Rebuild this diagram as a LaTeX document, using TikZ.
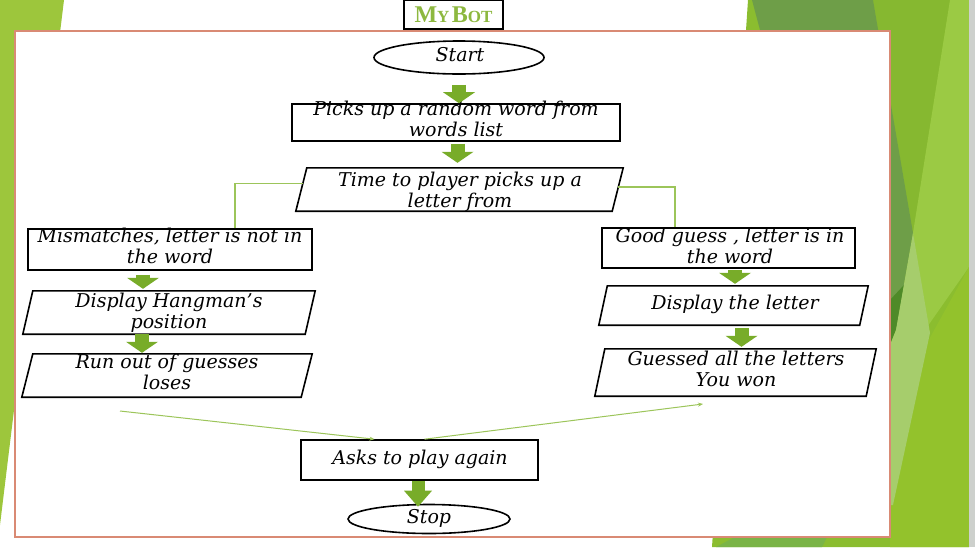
\documentclass[tikz,border=0pt]{standalone}
\usepackage{fontspec}
\setmainfont{DejaVu Serif}
\newfontfamily\titlefont{Liberation Serif}
\usetikzlibrary{shapes.geometric,arrows.meta}
\definecolor{gLeft}{HTML}{9DC63C}
\definecolor{gBase}{HTML}{8BBD2F}
\definecolor{gMid}{HTML}{86B830}
\definecolor{gLight}{HTML}{9BCA44}
\definecolor{gLow}{HTML}{93C22C}
\definecolor{gDark}{HTML}{6E9E48}
\definecolor{gVDark}{HTML}{4E8A28}
\definecolor{gPale}{HTML}{A6CD6C}
\definecolor{gBot}{HTML}{7AB447}
\definecolor{edgeGray}{HTML}{CDD0CC}
\definecolor{frameRed}{HTML}{D98A74}
\definecolor{blockGreen}{HTML}{78AC29}
\definecolor{blockEdge}{HTML}{5E8C1E}
\definecolor{thinGreen}{HTML}{9CC55A}
\definecolor{titleGreen}{HTML}{8DB83F}
\newcommand\drawpara[2]{\draw[paraline] ([xshift=#2]#1.north west) -- (#1.north east) -- ([xshift=-#2]#1.south east) -- (#1.south west) -- cycle;}
\begin{document}
\begin{tikzpicture}[x=1pt,y=-1pt,
  procbox/.style={draw=black,line width=1.6pt,rectangle,inner sep=0pt,fill=white},
  iobox/.style={rectangle,inner sep=0pt},
  paraline/.style={draw=black,line width=1.6pt,fill=white},
  termbox/.style={draw=black,line width=1.6pt,ellipse,inner sep=0pt,fill=white},
  txt/.style={font=\itshape\fontsize{19}{21}\selectfont,align=center,inner sep=0pt,execute at begin node=\strut,execute at end node=\strut},
  blockarr/.style={draw=blockGreen,line width=14pt,-{Triangle[width=32pt,length=11pt,line width=0pt]}},
  thinline/.style={draw=thinGreen,line width=1.1pt},
  thinarr/.style={draw=thinGreen,line width=1pt,-{Stealth[length=5pt,width=4pt]}}
]
\useasboundingbox (0,0) rectangle (975,547);
% background
\fill[gLeft] (0,0) -- (64,0) -- (0,525) -- cycle;
\fill[gBase] (748,0) -- (969,0) -- (969,547) -- (712,547) -- cycle;
\fill[gMid] (873,0) -- (950,0) -- (913,233) -- cycle;
\fill[gLight] (950,0) -- (969,0) -- (969,267) -- (925,330) -- (913,233) -- cycle;
\fill[gLow] (969,267) -- (969,547) -- (890,547) -- (890,410) -- cycle;
\fill[gDark] (752,0) -- (873,0) -- (913,233) -- (896,330) -- (880,335) -- (880,30) -- (760,30) -- cycle;
\fill[gVDark] (890,300) -- (904,285) -- (896,330) -- (890,345) -- cycle;
\fill[gPale] (913,233) -- (930,333) -- (893,505) -- (890,505) -- (890,345) -- (896,330) -- cycle;
\fill[gBot] (735,537) -- (827,537) -- (822,547) -- (716,547) -- cycle;
\fill[edgeGray] (969,0) rectangle (975,547);
% frame
\draw[draw=frameRed,line width=1.8pt,fill=white] (15,31) rectangle (890,537);
% title
\node[draw=black,line width=1.8pt,fill=white,minimum width=99pt,minimum height=29pt,inner sep=0pt,
      text=titleGreen,font=\titlefont\bfseries] (title) at (453.5,14.5)
      {{\fontsize{24}{24}\selectfont M}{\fontsize{17}{17}\selectfont Y} {\fontsize{24}{24}\selectfont B}{\fontsize{17}{17}\selectfont OT}};
% shapes
\node[termbox,minimum width=170pt,minimum height=33pt] (start) at (459,57.5) {};
\node[procbox,minimum width=328pt,minimum height=37pt] (picks) at (456,122.5) {};
\node[iobox,minimum width=327pt,minimum height=43pt] (time) at (459.5,189.5) {};
\drawpara{time}{11pt}
\node[procbox,minimum width=284pt,minimum height=41pt] (mism) at (170,249.5) {};
\node[iobox,minimum width=292pt,minimum height=43pt] (hang) at (169,312.5) {};
\drawpara{hang}{10pt}
\node[iobox,minimum width=290pt,minimum height=43pt] (runout) at (167,375.5) {};
\drawpara{runout}{11pt}
\node[procbox,minimum width=253pt,minimum height=40pt] (good) at (728.5,248) {};
\node[iobox,minimum width=269pt,minimum height=39pt] (disp) at (733.5,305.5) {};
\drawpara{disp}{8.5pt}
\node[iobox,minimum width=281pt,minimum height=47pt] (guessed) at (735.5,372.5) {};
\drawpara{guessed}{10pt}
\node[procbox,minimum width=237pt,minimum height=40pt] (asks) at (419.5,460) {};
\node[termbox,minimum width=162pt,minimum height=29pt] (stop) at (429,519) {};
% texts
\node[txt] (tstart) at (460,57.5) {Start};
\node[txt] (tpicks) at (456,121.5) {Picks up a random word from\\words list};
\node[txt] (ttime) at (460,192.5) {Time to player picks up a\\letter from};
\node[txt] (tmism) at (170,249) {Mismatches, letter is not in\\the word};
\node[txt] (thang) at (169,314) {Display Hangman’s\\position};
\node[txt] (trunout) at (167,374.5) {Run out of guesses\\loses};
\node[txt] (tgood) at (730,248.5) {Good guess , letter is in\\the word};
\node[txt] (tdisp) at (735,305.5) {Display the letter};
\node[txt] (tguessed) at (736,372) {Guessed all the letters\\You won};
\node[txt] (tasks) at (420,460.5) {Asks to play again};
\node[txt] (tstop) at (429,519) {Stop};
% block arrows
\draw[blockarr,shorten <=10pt] ([xshift=0pt]start.south) -- ([xshift=3pt]picks.north);
\draw[blockarr,shorten <=2pt,shorten >=5pt] ([xshift=1.5pt]picks.south) -- ([xshift=-2pt]time.north);
\draw[blockarr,shorten <=4pt,shorten >=2pt] ([xshift=-27pt]mism.south) -- ([xshift=-26pt]hang.north);
\draw[blockarr,shorten <=0pt,shorten >=1pt] ([xshift=-27pt]hang.south) -- ([xshift=-25pt]runout.north);
\draw[blockarr,shorten <=1pt,shorten >=2pt] ([xshift=6.5pt]good.south) -- ([xshift=1.5pt]disp.north);
\draw[blockarr,shorten <=3pt,shorten >=2pt] ([xshift=8pt]disp.south) -- ([xshift=6pt]guessed.north);
\draw[draw=blockGreen,line width=13pt,-{Triangle[width=28pt,length=16pt,line width=0pt]},shorten >=-3pt] ([xshift=-1.5pt]asks.south) -- ([xshift=-11pt]stop.north);
% thin connectors
\coordinate (lx) at (235,0);
\coordinate (rx) at (675,0);
\draw[thinline] ([xshift=7pt,yshift=6pt]time.west) -| (lx |- mism.north);
\draw[thinline] ([xshift=-5pt,yshift=2.5pt]time.east) -| (rx |- good.north);
\coordinate (la) at (120,411);
\coordinate (ra) at (703,404);
\draw[thinarr] (la) -- ([xshift=-45pt]asks.north);
\draw[thinarr] ([xshift=5pt]asks.north) -- (ra);
\end{tikzpicture}
\end{document}
